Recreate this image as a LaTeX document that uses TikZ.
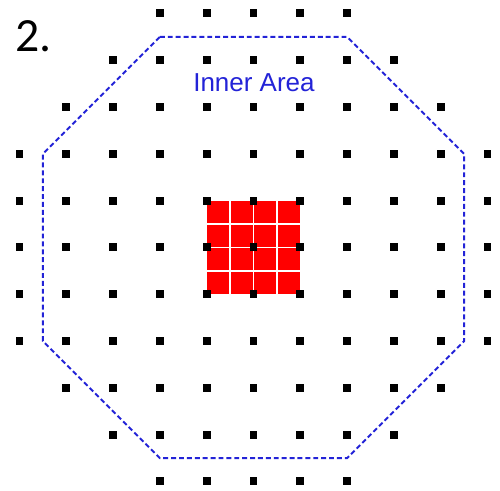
\documentclass[tikz,border=0pt]{standalone}
\usepackage{fontspec}
\newfontfamily\labelfont{Carlito}
\newfontfamily\areafont{Liberation Sans}
\definecolor{areablue}{RGB}{35,35,215}
\begin{document}
\begin{tikzpicture}[x=1cm,y=1cm]
  \useasboundingbox (-5.417,-5.203) rectangle (5.267,5.288);
  % red block, 4x4 cells
  \fill[red] (-1,-1) rectangle (1,1);
  \foreach \t in {-0.5,0,0.5} {
    \draw[white,line width=0.9pt] (\t,-1) -- (\t,1);
    \draw[white,line width=0.9pt] (-1,\t) -- (1,\t);
  }
  % lattice points with i^2+j^2 <= 30
  \foreach \i in {-5,...,5}
    \foreach \j in {-5,...,5} {
      \pgfmathtruncatemacro{\rr}{\i*\i+\j*\j}
      \ifnum\rr<31 \fill (\i-0.085,\j-0.085) rectangle ++(0.17,0.17); \fi
    }
  % inner area outline
  \draw[areablue,line width=1.2pt,dash pattern=on 3pt off 1.8pt]
    (-2,4.5) -- (2,4.5) -- (4.5,2) -- (4.5,-2) -- (2,-4.5) -- (-2,-4.5) -- (-4.5,-2) -- (-4.5,2) -- cycle;
  \node[areablue,font=\areafont\fontsize{15.8}{18}\selectfont,anchor=base,inner sep=0] (area) at (0.01,3.33) {Inner Area};
  \node[font=\labelfont\fontsize{29}{34}\selectfont,anchor=base west,inner sep=0] (num) at (-5.1,4.18) {2.};
\end{tikzpicture}
\end{document}
